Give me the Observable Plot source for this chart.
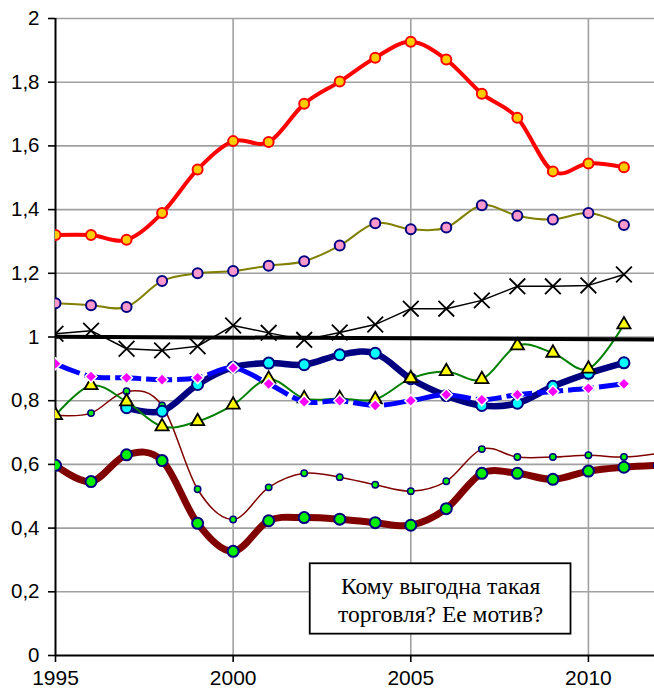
<!DOCTYPE html>
<html><head><meta charset="utf-8">
<script src="https://cdn.jsdelivr.net/npm/d3@7"></script>
<script src="https://cdn.jsdelivr.net/npm/@observablehq/plot@0.6"></script>
<style>html,body{margin:0;padding:0;background:#fff}#chart svg{display:block}</style>
</head><body><div id="chart"></div>
<script>
// ---- data ----
const years = [1995,1996,1997,1998,1999,2000,2001,2002,2003,2004,2005,2006,2007,2008,2009,2010,2011];
const yearsExt = [1995,1996,1997,1998,1999,2000,2001,2002,2003,2004,2005,2006,2007,2008,2009,2010,2011,2012];

const redSeries   = [1.32,1.32,1.305,1.389,1.526,1.615,1.612,1.732,1.802,1.877,1.927,1.871,1.764,1.688,1.52,1.545,1.533];
const oliveSeries = [1.106,1.100,1.094,1.176,1.200,1.207,1.224,1.238,1.287,1.357,1.338,1.344,1.414,1.381,1.369,1.389,1.352];
const crossSeries = [1.010,1.020,0.963,0.958,0.971,1.036,1.013,0.991,1.014,1.039,1.089,1.089,1.115,1.159,1.159,1.162,1.196];
const navySeries  = [null,null,0.778,0.767,0.851,0.905,0.918,0.913,0.944,0.949,0.869,0.816,0.785,0.792,0.845,0.886,0.919];
const blueSeries  = [0.916,0.876,0.872,0.866,0.872,0.903,0.853,0.797,0.800,0.785,0.800,0.819,0.803,0.819,0.829,0.839,0.853];
const greenSeries = [0.754,0.848,0.797,0.719,0.735,0.787,0.868,0.807,0.807,0.804,0.870,0.892,0.867,0.973,0.950,0.900,1.039];
const brownThin   = [0.754,0.761,0.830,0.785,0.522,0.427,0.528,0.572,0.560,0.536,0.516,0.547,0.648,0.623,0.623,0.629,0.623,0.635];
const brownThick  = [0.597,0.546,0.630,0.612,0.415,0.327,0.423,0.433,0.428,0.417,0.409,0.461,0.572,0.572,0.553,0.579,0.591,0.597];
const refYears    = [1995, 2012];
const refValues   = [1.001, 0.992];

const yTicks = [0,0.2,0.4,0.6,0.8,1,1.2,1.4,1.6,1.8,2];
const xTicks = [1995,2000,2005,2010];
const noteText = "Кому выгодна такая\nторговля? Ее мотив?";
const note = [{x1:2002.17, x2:2009.51, y1:0.067, y2:0.288, text:noteText}];

// ---- helpers ----
const pts = (vals, yrs = years) => yrs.map((x,i)=>({x, y: vals[i]})).filter(d => d.y != null);

const lineOpts = (o) => Object.assign({x:"x", y:"y", curve:"cardinal", clip:true, strokeLinejoin:"round", strokeLinecap:"round"}, o);
const dotOpts  = (o) => Object.assign({x:"x", y:"y", clip:true}, o);

const chart = Plot.plot({
  width: 654, height: 693,
  marginLeft: 55, marginRight: 0, marginTop: 18, marginBottom: 38,
  x: {domain: [1995, 2011.86], label: null},
  y: {domain: [0, 2], label: null},
  style: {fontFamily: "'Liberation Sans', Arial, sans-serif", background: "#fff", color: "#000"},
  marks: [
    Plot.gridX(xTicks.slice(1), {stroke: "#a0a0a0", strokeOpacity: 1, strokeWidth: 1.6}),
    Plot.gridY(yTicks.slice(1), {stroke: "#a0a0a0", strokeOpacity: 1, strokeWidth: 1.6}),
    Plot.ruleX([1995], {stroke: "#000", strokeWidth: 2}),
    Plot.ruleY([0], {stroke: "#000", strokeWidth: 2}),
    Plot.axisY(yTicks, {tickSize: 7, tickPadding: 9, fontSize: 20.5, strokeWidth: 1.6, label: null,
      tickFormat: d => String(d).replace(".", ",")}),
    Plot.axisX(xTicks, {tickSize: 7, tickPadding: 8, fontSize: 21, strokeWidth: 1.6, label: null,
      tickFormat: d => String(d)}),

    // red
    Plot.line(pts(redSeries), lineOpts({stroke: "#FF0000", strokeWidth: 4})),
    Plot.dot(pts(redSeries), dotOpts({r: 5, fill: "#FFCC00", stroke: "#FF0000", strokeWidth: 2})),
    // olive
    Plot.line(pts(oliveSeries), lineOpts({stroke: "#808000", strokeWidth: 2})),
    Plot.dot(pts(oliveSeries), dotOpts({r: 5, fill: "#FF99CC", stroke: "#000080", strokeWidth: 2})),
    // crosses
    Plot.line(pts(crossSeries), lineOpts({curve: "linear", stroke: "#000", strokeWidth: 1.5})),
    Plot.dot(pts(crossSeries), dotOpts({symbol: "times", r: 7.2, stroke: "#000", strokeWidth: 1.8})),
    // thick brown
    Plot.line(pts(brownThick, yearsExt), lineOpts({stroke: "#800000", strokeWidth: 7})),
    Plot.dot(pts(brownThick, yearsExt), dotOpts({r: 5.5, fill: "#00EE00", stroke: "#000080", strokeWidth: 2})),
    // thin brown
    Plot.line(pts(brownThin, yearsExt), lineOpts({stroke: "#800000", strokeWidth: 1.5})),
    Plot.dot(pts(brownThin, yearsExt), dotOpts({r: 3.2, fill: "#00EE00", stroke: "#000080", strokeWidth: 1.5})),
    // navy thick
    Plot.line(pts(navySeries), lineOpts({stroke: "#000080", strokeWidth: 6.5})),
    Plot.dot(pts(navySeries), dotOpts({r: 5.5, fill: "#00FFFF", stroke: "#000080", strokeWidth: 2})),
    // green with triangles
    Plot.line(pts(greenSeries), lineOpts({stroke: "#008000", strokeWidth: 2})),
    Plot.dot(pts(greenSeries), dotOpts({symbol: "triangle", r: 4.9, fill: "#FFFF00", stroke: "#000", strokeWidth: 1.8})),
    // blue dashed
    Plot.line(pts(blueSeries), lineOpts({stroke: "#0000FF", strokeWidth: 5, strokeDasharray: "26,5", strokeLinecap: "butt"})),
    Plot.dot(pts(blueSeries), dotOpts({symbol: "diamond2", r: 5.3, fill: "#FF00FF", stroke: "#fff", strokeWidth: 1.5})),
    // reference line near 1
    Plot.line(pts(refValues, refYears), lineOpts({curve: "linear", stroke: "#000", strokeWidth: 4})),

    // annotation box
    Plot.rect(note, {x1: "x1", x2: "x2", y1: "y1", y2: "y2", fill: "#fff", stroke: "#000", strokeWidth: 1.8}),
    Plot.text(note, {x: d => (d.x1 + d.x2) / 2, y: d => (d.y1 + d.y2) / 2, text: "text",
      fontFamily: "'Liberation Serif', 'Times New Roman', serif", fontSize: 23.5, lineHeight: 1.18, fill: "#000"})
  ]
});
document.getElementById("chart").appendChild(chart);
</script>
</body></html>
